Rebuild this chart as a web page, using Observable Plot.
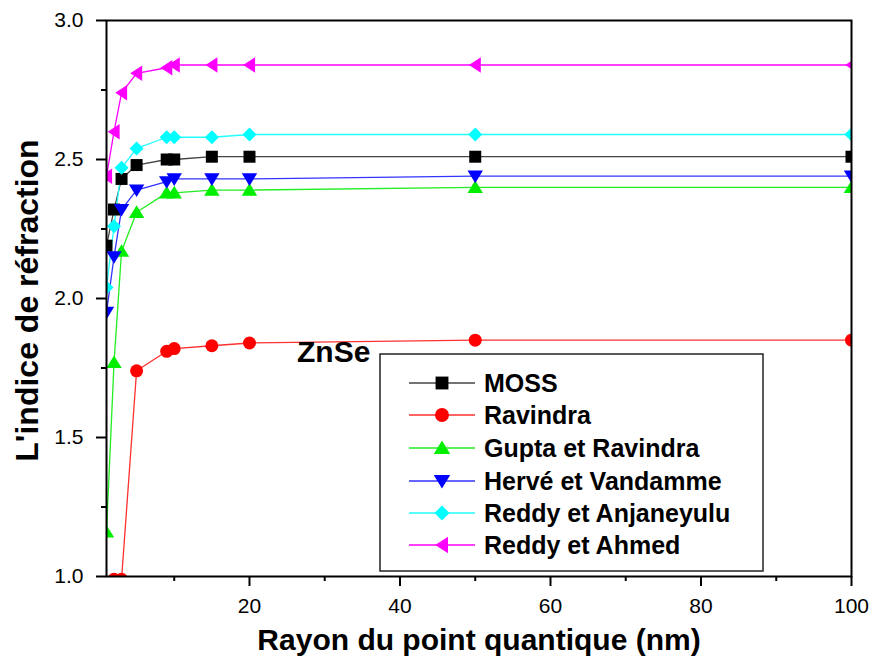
<!DOCTYPE html>
<html>
<head>
<meta charset="utf-8">
<script src="https://cdn.jsdelivr.net/npm/d3@7"></script>
<script src="https://cdn.jsdelivr.net/npm/@observablehq/plot@0.6"></script>
<style>
  body { margin: 0; background: #fff; }
  svg { font-family: "Liberation Sans", Arial, sans-serif; }
</style>
</head>
<body>
<div id="chart"></div>
<script>
// ---- Data ----
const seriesNames = ["MOSS", "Ravindra", "Gupta et Ravindra", "Hervé et Vandamme", "Reddy et Anjaneyulu", "Reddy et Ahmed"];
const seriesColors = ["#000000", "#ff0000", "#00ee00", "#0000ff", "#00ffff", "#ff00ff"];
const lineColors = ["#444444", "#ff3030", "#22ee22", "#3333ff", "#22ffff", "#ff00ff"];

const radius = [1, 2, 3, 5, 9, 10, 15, 20, 50, 100];
const moss = [2.19, 2.32, 2.43, 2.48, 2.50, 2.50, 2.51, 2.51, 2.51, 2.51];
const ravindraRadius = [2, 3, 5, 9, 10, 15, 20, 50, 100];
const ravindra = [0.99, 0.99, 1.74, 1.81, 1.82, 1.83, 1.84, 1.85, 1.85];
const gupta = [1.16, 1.77, 2.17, 2.31, 2.38, 2.38, 2.39, 2.39, 2.40, 2.40];
const herve = [1.95, 2.15, 2.32, 2.39, 2.42, 2.43, 2.43, 2.43, 2.44, 2.44];
const anjaneyulu = [2.04, 2.26, 2.47, 2.54, 2.58, 2.58, 2.58, 2.59, 2.59, 2.59];
const ahmed = [2.44, 2.60, 2.74, 2.81, 2.83, 2.84, 2.84, 2.84, 2.84, 2.84];

const xMajorTicks = [20, 40, 60, 80, 100];
const xMinorTicks = [10, 30, 50, 70, 90];
const yMajorTicks = [1.0, 1.5, 2.0, 2.5, 3.0];
const yMinorTicks = [1.25, 1.75, 2.25, 2.75];

const xTitle = "Rayon du point quantique (nm)";
const yTitle = "L'indice de réfraction";
const annotation = "ZnSe";

// ---- Symbols ----
const S = size => Math.sqrt(size / Math.PI);
const symSquare = {draw(c, size) { const s = S(size); c.moveTo(-s, -s); c.lineTo(s, -s); c.lineTo(s, s); c.lineTo(-s, s); c.closePath(); }};
const symCircle = {draw(c, size) { const s = S(size); c.moveTo(s, 0); c.arc(0, 0, s, 0, 2 * Math.PI); c.closePath(); }};
const symUp = {draw(c, size) { const s = S(size); c.moveTo(0, -s); c.lineTo(s * 1.1, s * 0.8); c.lineTo(-s * 1.1, s * 0.8); c.closePath(); }};
const symDown = {draw(c, size) { const s = S(size); c.moveTo(0, s); c.lineTo(s * 1.1, -s * 0.8); c.lineTo(-s * 1.1, -s * 0.8); c.closePath(); }};
const symDiamond = {draw(c, size) { const s = S(size); c.moveTo(0, -s); c.lineTo(s, 0); c.lineTo(0, s); c.lineTo(-s, 0); c.closePath(); }};
const symLeft = {draw(c, size) { const s = S(size); c.moveTo(-s * 0.9, 0); c.lineTo(s * 0.8, -s * 1.1); c.lineTo(s * 0.8, s * 1.1); c.closePath(); }};
const symbols = [symSquare, symCircle, symUp, symDown, symDiamond, symLeft];
const symR = [6, 6.5, 7, 7, 7, 7];

const seriesValues = [moss, ravindra, gupta, herve, anjaneyulu, ahmed];
const seriesX = [radius, ravindraRadius, radius, radius, radius, radius];
const tables = seriesNames.map((name, i) =>
  seriesValues[i].map((v, j) => ({series: name, x: seriesX[i][j], y: v})));

const marks = [];
tables.forEach((t, i) => {
  marks.push(Plot.line(t, {x: "x", y: "y", stroke: lineColors[i], strokeWidth: 1.3, clip: true}));
});
tables.forEach((t, i) => {
  marks.push(Plot.dot(t, {x: "x", y: "y", fill: seriesColors[i], stroke: "none", symbol: symbols[i], r: symR[i], clip: true}));
});

marks.push(
  Plot.frame({stroke: "#000", strokeWidth: 2}),
  Plot.axisX({ticks: xMajorTicks, tickSize: 10, tickPadding: 12, label: null, strokeWidth: 2, fontSize: 21, tickFormat: d => String(d)}),
  Plot.axisX({ticks: xMinorTicks, tickSize: 5, label: null, strokeWidth: 2, tickFormat: () => ""}),
  Plot.axisY({ticks: yMajorTicks, tickSize: 10, tickPadding: 13, label: null, strokeWidth: 2, fontSize: 21, tickFormat: d3.format(".1f")}),
  Plot.axisY({ticks: yMinorTicks, tickSize: 5, label: null, strokeWidth: 2, tickFormat: () => ""}),
  Plot.text([xTitle], {frameAnchor: "bottom", lineAnchor: "middle", textAnchor: "middle", dy: 64, fontSize: 30, fontWeight: "bold", fill: "#000"}),
  Plot.text([yTitle], {frameAnchor: "left", lineAnchor: "middle", textAnchor: "middle", dx: -79, dy: 2, rotate: -90, fontSize: 32, fontWeight: "bold", fill: "#000"})
);

const chart = Plot.plot({
  width: 873,
  height: 669,
  marginLeft: 106,
  marginRight: 22,
  marginTop: 20,
  marginBottom: 93,
  x: {domain: [1, 100]},
  y: {domain: [1, 3]},
  style: {fontFamily: "'Liberation Sans', Arial, sans-serif", color: "#000", background: "#fff"},
  marks
});
document.getElementById("chart").appendChild(chart);

// enlarge tick labels to match the reference
d3.select(chart).selectAll('g[aria-label="x-axis tick label"] text, g[aria-label="y-axis tick label"] text')
  .style("font-size", "21px");
d3.select(chart).selectAll('g[aria-label="x-axis tick label"], g[aria-label="y-axis tick label"]')
  .style("font-size", "21px").attr("font-size", 21);

// ---- Annotation & legend (inside the plot box) ----
const svg = d3.select(chart);
svg.append("text")
  .attr("x", 297).attr("y", 362).attr("text-anchor", "start")
  .attr("font-size", 30).attr("font-weight", "bold").attr("fill", "#000")
  .text(annotation);

const lg = svg.append("g").attr("text-anchor", "start");
lg.append("rect").attr("x", 380).attr("y", 354).attr("width", 383).attr("height", 217)
  .attr("fill", "#fff").attr("stroke", "#222").attr("stroke-width", 1.5);
const rowY = [383, 415, 448, 481, 513, 545];
seriesNames.forEach((name, i) => {
  const y = rowY[i];
  lg.append("line").attr("x1", 409).attr("x2", 475).attr("y1", y).attr("y2", y)
    .attr("stroke", lineColors[i]).attr("stroke-width", 1.3);
  const sz = Math.PI * symR[i] * symR[i] * 1.15;
  lg.append("path").attr("transform", `translate(442,${y})`)
    .attr("d", d3.symbol(symbols[i], sz)())
    .attr("fill", seriesColors[i]);
  lg.append("text").attr("x", 484).attr("y", y).attr("dy", "0.36em")
    .attr("text-anchor", "start")
    .attr("font-size", 25).attr("font-weight", "bold").attr("fill", "#000")
    .text(name);
});
</script>
</body>
</html>
